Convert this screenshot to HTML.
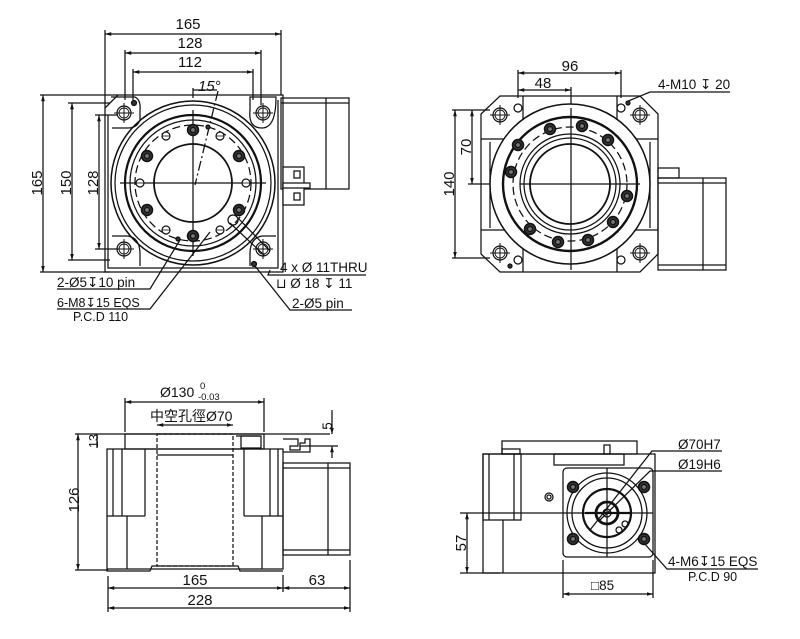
<!DOCTYPE html>
<html><head><meta charset="utf-8"><style>
html,body{margin:0;padding:0;background:#fff}
svg{display:block}
text{font-family:"Liberation Sans","Noto Sans CJK TC",sans-serif;fill:#111}
</style></head><body>
<svg width="800" height="639" viewBox="0 0 800 639" xmlns="http://www.w3.org/2000/svg">
<defs>
<marker id="a" viewBox="0 0 10 10" refX="10" refY="5" markerWidth="5" markerHeight="5" orient="auto-start-reverse"><path d="M0,2 L10,5 L0,8z" fill="#111"/></marker>
<g id="ch"><circle r="7" fill="none" stroke="#111" stroke-width="1.2"/><circle r="5" fill="none" stroke="#111" stroke-width=".9"/><line x1="-10" y1="0" x2="10" y2="0" stroke="#111" stroke-width="1"/><line x1="0" y1="-10" x2="0" y2="10" stroke="#111" stroke-width="1"/></g>
<g id="bb"><circle r="5.5" fill="#333" stroke="#111" stroke-width="1.5"/><circle r="2.5" fill="#777"/></g>
<g id="sh"><circle r="4" fill="#fff" stroke="#111" stroke-width="1.2"/><line x1="-4" y1="0" x2="4" y2="0" stroke="#111" stroke-width=".8"/></g>
</defs>
<g fill="none" stroke="#111" stroke-width="1.25">
<!-- ===== TOP LEFT ===== -->
<line x1="105" y1="30" x2="105" y2="112"/><line x1="281" y1="30" x2="281" y2="95"/>
<line x1="125" y1="50" x2="125" y2="100"/><line x1="261" y1="50" x2="261" y2="105"/>
<line x1="133" y1="69" x2="133" y2="100"/><line x1="253" y1="69" x2="253" y2="100"/>
<line x1="105" y1="34" x2="281" y2="34" marker-start="url(#a)" marker-end="url(#a)"/>
<line x1="125" y1="53" x2="261" y2="53" marker-start="url(#a)" marker-end="url(#a)"/>
<line x1="133" y1="72" x2="253" y2="72" marker-start="url(#a)" marker-end="url(#a)"/>
<line x1="193" y1="90" x2="217" y2="90"/><path d="M193,88 L193,98"/><path d="M218,91 L195,185" stroke-dasharray="10 3 2 3"/>
<path d="M105,112 L105,272 L283,272 L283,95 L118,95 L105,108"/>
<path d="M108,115 L108,268 L278,268 L278,100"/>
<line x1="40" y1="95" x2="118" y2="95"/><line x1="40" y1="272" x2="110" y2="272"/>
<line x1="68" y1="103" x2="110" y2="103"/><line x1="68" y1="260" x2="110" y2="260"/>
<line x1="95" y1="115" x2="118" y2="115"/><line x1="95" y1="249" x2="118" y2="249"/>
<line x1="43" y1="95" x2="43" y2="272" marker-start="url(#a)" marker-end="url(#a)"/>
<line x1="72" y1="103" x2="72" y2="260" marker-start="url(#a)" marker-end="url(#a)"/>
<line x1="99" y1="115" x2="99" y2="249" marker-start="url(#a)" marker-end="url(#a)"/>
<path d="M111,97 L135,97 Q141,100 140,110 L140,120 Q137,128 128,128 L112,128"/>
<path d="M250,97 L276,97 Q276,128 262,128 Q248,128 250,110z"/>
<path d="M112,236 L128,236 Q140,238 140,254 L140,266"/>
<path d="M276,236 L262,236 Q250,238 250,254 L250,266"/>
<use href="#ch" x="124" y="113"/><use href="#ch" x="263" y="113"/><use href="#ch" x="124" y="249"/><use href="#ch" x="263" y="249"/>
<circle cx="134" cy="103" r="2.5" fill="#333"/><circle cx="254" cy="264" r="2.5" fill="#333"/>
<circle cx="193" cy="183" r="82" stroke-width="1.5"/><circle cx="193" cy="183" r="78"/>
<circle cx="193" cy="183" r="68" stroke-width="2.2"/><circle cx="193" cy="183" r="63"/>
<circle cx="193" cy="183" r="58" stroke-dasharray="8 4"/>
<circle cx="193" cy="183" r="39" stroke-width="1.8"/>
<line x1="120" y1="183" x2="266" y2="183"/><line x1="193" y1="110" x2="193" y2="256"/>
<use href="#bb" x="193" y="130"/><use href="#bb" x="239" y="156"/><use href="#bb" x="239" y="210"/><use href="#bb" x="193" y="236"/><use href="#bb" x="147" y="210"/><use href="#bb" x="147" y="156"/>
<use href="#sh" x="166" y="136"/><use href="#sh" x="220" y="136"/><use href="#sh" x="246" y="183"/><use href="#sh" x="140" y="183"/><use href="#sh" x="166" y="230"/><use href="#sh" x="220" y="230"/>
<circle cx="208" cy="127" r="2" fill="#333"/><circle cx="178" cy="239" r="2" fill="#333"/>
<path d="M230,223 L265,256 M237,217 L270,251"/><circle cx="233" cy="220" r="5"/>
<rect x="281" y="98" width="68" height="91"/><line x1="281" y1="103" x2="349" y2="103"/><line x1="326" y1="98" x2="326" y2="189"/>
<rect x="283" y="167" width="21" height="38" fill="#fff"/><rect x="283" y="183" width="27" height="5" fill="#fff"/><rect x="294" y="171" width="6" height="7"/><rect x="294" y="193" width="6" height="7"/>
<polyline points="57,289 150,289 180,240"/>
<polyline points="57,309 150,309 210,232"/>
<polyline points="270,270 268,275 366,275"/>
<polyline points="255,266 290,310 352,310"/>
<!-- ===== TOP RIGHT ===== -->
<line x1="518" y1="70" x2="518" y2="98"/><line x1="621" y1="70" x2="621" y2="98"/><line x1="571" y1="87" x2="571" y2="270"/>
<line x1="518" y1="73" x2="621" y2="73" marker-start="url(#a)" marker-end="url(#a)"/>
<line x1="518" y1="90" x2="571" y2="90" marker-start="url(#a)" marker-end="url(#a)"/>
<polyline points="626,102 650,92 730,92"/>
<line x1="452" y1="110" x2="490" y2="110"/><line x1="452" y1="258" x2="490" y2="258"/><line x1="468" y1="184" x2="560" y2="184"/>
<line x1="455" y1="110" x2="455" y2="258" marker-start="url(#a)" marker-end="url(#a)"/>
<line x1="472" y1="110" x2="472" y2="184" marker-start="url(#a)" marker-end="url(#a)"/>
<path d="M500,96 L640,96 L658,114 L658,254 L640,272 L500,272 L481,254 L481,114z"/>
<line x1="481" y1="139" x2="523" y2="139"/><line x1="617" y1="139" x2="658" y2="139"/><line x1="481" y1="230" x2="523" y2="230"/><line x1="617" y1="230" x2="658" y2="230"/>
<line x1="523" y1="96" x2="523" y2="139"/><line x1="617" y1="96" x2="617" y2="139"/><line x1="523" y1="230" x2="523" y2="272"/><line x1="617" y1="230" x2="617" y2="272"/>
<line x1="490" y1="142" x2="490" y2="228"/><line x1="650" y1="142" x2="650" y2="228"/>
<use href="#ch" x="500" y="115"/><use href="#ch" x="640" y="115"/><use href="#ch" x="500" y="253"/><use href="#ch" x="640" y="253"/>
<circle cx="518" cy="108" r="4"/><circle cx="621" cy="108" r="4"/><circle cx="518" cy="260" r="4"/><circle cx="621" cy="260" r="4"/>
<circle cx="628" cy="103" r="2" fill="#333"/><circle cx="510" cy="266" r="2" fill="#333"/>
<circle cx="570" cy="184" r="80" fill="#fff" stroke-width="1.5"/>
<circle cx="570" cy="184" r="67" stroke-width="2.4"/><circle cx="570" cy="184" r="57" stroke-dasharray="8 4"/>
<circle cx="570" cy="184" r="50"/><circle cx="570" cy="184" r="46"/><circle cx="570" cy="184" r="40" stroke-width="1.8"/>
<line x1="520" y1="184" x2="640" y2="184"/><line x1="571" y1="108" x2="571" y2="265"/>
<use href="#bb" x="550" y="129"/><use href="#bb" x="582" y="126"/><use href="#bb" x="608" y="140"/><use href="#bb" x="518" y="145"/><use href="#bb" x="511" y="172"/><use href="#bb" x="627" y="196"/><use href="#bb" x="613" y="222"/><use href="#bb" x="530" y="229"/><use href="#bb" x="558" y="242"/><use href="#bb" x="588" y="240"/>
<rect x="658" y="178" width="68" height="92"/><line x1="658" y1="183" x2="726" y2="183"/><line x1="658" y1="265" x2="726" y2="265"/><line x1="703" y1="178" x2="703" y2="270"/>
<rect x="658" y="168" width="21" height="10"/>
<!-- ===== BOTTOM LEFT ===== -->
<line x1="125" y1="398" x2="125" y2="432"/><line x1="264" y1="398" x2="264" y2="432"/>
<line x1="125" y1="402" x2="264" y2="402" marker-start="url(#a)" marker-end="url(#a)"/>
<line x1="157" y1="425" x2="233" y2="425" marker-start="url(#a)" marker-end="url(#a)"/>
<line x1="75" y1="434" x2="330" y2="434"/><line x1="75" y1="570" x2="108" y2="570"/>
<line x1="78" y1="434" x2="78" y2="570" marker-start="url(#a)" marker-end="url(#a)"/>
<line x1="97" y1="434" x2="97" y2="448"/>
<line x1="300" y1="446" x2="338" y2="446"/><line x1="332" y1="410" x2="332" y2="434" marker-end="url(#a)"/><line x1="332" y1="458" x2="332" y2="446" marker-end="url(#a)"/>
<rect x="125" y="434" width="139" height="15"/>
<line x1="236" y1="436" x2="260" y2="436"/><rect x="241" y="436" width="20" height="12"/>
<rect x="107" y="449" width="176" height="120"/>
<path d="M107,569 L107,571 L150,571 L152,566 L238,566 L240,571 L283,571"/>
<line x1="113" y1="449" x2="113" y2="516"/><line x1="122" y1="449" x2="122" y2="516"/><line x1="145" y1="449" x2="145" y2="516"/><line x1="107" y1="516" x2="145" y2="516"/><line x1="127" y1="516" x2="127" y2="569"/>
<line x1="244" y1="449" x2="244" y2="516"/><line x1="270" y1="449" x2="270" y2="516"/><line x1="278" y1="449" x2="278" y2="516"/><line x1="244" y1="516" x2="283" y2="516"/><line x1="262" y1="516" x2="262" y2="569"/>
<rect x="157" y="434" width="76" height="132" stroke-dasharray="4 2"/><line x1="157" y1="455" x2="233" y2="455"/>
<path d="M283,439 L298,439 L298,446 L290,446 L290,450 L300,450 L300,443 L305,443 L305,439 L310,439 L310,452 L283,452"/>
<rect x="283" y="463" width="67" height="92"/><line x1="283" y1="468" x2="350" y2="468"/><line x1="283" y1="550" x2="350" y2="550"/><line x1="328" y1="463" x2="328" y2="555"/>
<line x1="108" y1="576" x2="108" y2="612"/><line x1="283" y1="575" x2="283" y2="592"/><line x1="350" y1="560" x2="350" y2="612"/>
<line x1="108" y1="588" x2="283" y2="588" marker-start="url(#a)" marker-end="url(#a)"/>
<line x1="283" y1="588" x2="350" y2="588" marker-start="url(#a)" marker-end="url(#a)"/>
<line x1="108" y1="608" x2="350" y2="608" marker-start="url(#a)" marker-end="url(#a)"/>
<!-- ===== BOTTOM RIGHT ===== -->
<rect x="502" y="441" width="135" height="13"/><rect x="502" y="449" width="18" height="5"/>
<rect x="483" y="454" width="172" height="119"/>
<rect x="483" y="454" width="38" height="66"/><line x1="489" y1="454" x2="489" y2="520"/><line x1="514" y1="454" x2="514" y2="520"/>
<line x1="503" y1="520" x2="503" y2="573"/>
<rect x="554" y="454" width="70" height="11"/><rect x="604" y="445" width="6" height="9"/>
<line x1="460" y1="513" x2="563" y2="513"/><line x1="460" y1="573" x2="500" y2="573"/>
<line x1="467" y1="513" x2="467" y2="573" marker-start="url(#a)" marker-end="url(#a)"/>
<circle cx="549" cy="497" r="4"/><circle cx="549" cy="497" r="2"/>
<rect x="563" y="468" width="90" height="89" rx="4" fill="#fff"/>
<circle cx="607" cy="513" r="40"/><circle cx="607" cy="513" r="35"/><circle cx="607" cy="513" r="24" stroke-width="2.2"/>
<circle cx="607" cy="513" r="11" stroke-width="2.8"/><circle cx="607" cy="513" r="4"/>
<circle cx="619" cy="530" r="3"/><circle cx="625" cy="524" r="3"/>
<line x1="585" y1="513" x2="630" y2="513" stroke-width="2.2"/>
<line x1="563" y1="513" x2="653" y2="513"/><line x1="607" y1="468" x2="607" y2="557"/>
<use href="#bb" x="573" y="487"/><use href="#bb" x="644" y="487"/><use href="#bb" x="573" y="539"/><use href="#bb" x="644" y="539"/>
<polyline points="590,530 652,451 722,451"/>
<polyline points="600,520 650,471 722,471"/>
<polyline points="644,543 667,569 758,569"/>
<line x1="563" y1="560" x2="563" y2="598"/><line x1="653" y1="560" x2="653" y2="598"/>
<line x1="563" y1="594" x2="653" y2="594" marker-start="url(#a)" marker-end="url(#a)"/>
</g>
<g font-size="15">
<text x="188" y="29" text-anchor="middle">165</text>
<text x="190" y="48" text-anchor="middle">128</text>
<text x="190" y="67" text-anchor="middle">112</text>
<text x="198" y="91" font-style="italic">15°</text>
<text transform="translate(42,183) rotate(-90)" text-anchor="middle">165</text>
<text transform="translate(71,183) rotate(-90)" text-anchor="middle">150</text>
<text transform="translate(98,183) rotate(-90)" text-anchor="middle">128</text>
<text x="280" y="272" font-size="13.5">4 x Ø 11THRU</text>
<text x="276" y="288" font-size="13.5">⊔ Ø 18 ↧ 11</text>
<text x="57" y="287" font-size="13.5">2-Ø5↧10 pin</text>
<text x="57" y="307" font-size="12.5">6-M8↧15 EQS</text>
<text x="73" y="321" font-size="12.5">P.C.D 110</text>
<text x="292" y="308" font-size="13.5">2-Ø5 pin</text>
<text x="570" y="71" text-anchor="middle">96</text>
<text x="543" y="88" text-anchor="middle">48</text>
<text x="658" y="89" font-size="13.5">4-M10 ↧ 20</text>
<text transform="translate(454,184) rotate(-90)" text-anchor="middle">140</text>
<text transform="translate(471,147) rotate(-90)" text-anchor="middle">70</text>
<text x="160" y="397" font-size="14">Ø130</text><text x="200" y="389" font-size="9.5">0</text><text x="198" y="400" font-size="9.5">-0.03</text>
<text x="150" y="421" font-size="14">中空孔徑Ø70</text>
<text transform="translate(79,500) rotate(-90)" text-anchor="middle">126</text>
<text transform="translate(98,441) rotate(-90)" text-anchor="middle" font-size="12.5">13</text>
<text transform="translate(332,426) rotate(-90)" text-anchor="middle" font-size="13.5">5</text>
<text x="195" y="585" text-anchor="middle">165</text>
<text x="317" y="585" text-anchor="middle">63</text>
<text x="200" y="605" text-anchor="middle">228</text>
<text x="678" y="449" font-size="13.5">Ø70H7</text>
<text x="678" y="469" font-size="13.5">Ø19H6</text>
<text x="668" y="566" font-size="13.5">4-M6↧15 EQS</text>
<text x="688" y="581" font-size="12.5">P.C.D 90</text>
<text x="591" y="590" font-size="13.5">□85</text>
<text transform="translate(466,543) rotate(-90)" text-anchor="middle">57</text>
</g>
</svg>
</body></html>
